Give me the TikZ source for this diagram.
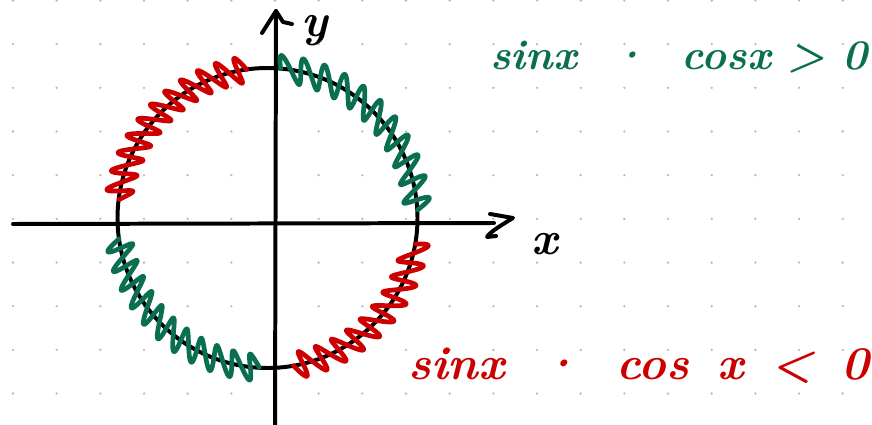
\documentclass[tikz,border=0pt]{standalone}
\usepackage{fontspec}
\definecolor{myred}{RGB}{204,0,0}
\definecolor{mygreen}{RGB}{10,110,80}
\definecolor{dotgray}{RGB}{185,185,185}
\tikzset{
  axis/.style={line width=3.4pt,line cap=round,line join=round,black},
  wave/.style={line width=4pt,line cap=round,line join=round},
  glbl/.style={inner sep=0pt,anchor=west,font=\fontsize{36}{40}\selectfont\bfseries\itshape},
  rlbl/.style={inner sep=0pt,anchor=west,font=\fontsize{40}{44}\selectfont\bfseries\itshape},
  axlbl/.style={inner sep=0pt,font=\fontsize{40}{44}\selectfont\bfseries\itshape},
}
% colour, start angle, end angle, number of waves, amplitude
\newcommand\wavyarc[5]{%
 \draw[wave,#1] plot[domain=0:1,samples=500,smooth,variable=\t]
  ({267.5+(150+#5*sin(360*#4*\t))*cos(#2+(#3-#2)*\t)-0.45*#5*sin(360*#4*\t)*sin(#2+(#3-#2)*\t)},
   {218-(150+#5*sin(360*#4*\t))*sin(#2+(#3-#2)*\t)-0.45*#5*sin(360*#4*\t)*cos(#2+(#3-#2)*\t)});}
\begin{document}
\begin{tikzpicture}[x=0.03cm,y=-0.03cm]
\useasboundingbox (0,0) rectangle (872,425);
\foreach \i in {0,...,19} \foreach \j in {0,...,9}
  \fill[dotgray] ({13+43.67*\i},{0.5+43.67*\j}) circle[radius=1.1pt];
% axes
\coordinate (xs) at (13,224);
\coordinate (xe) at (494,223);
\coordinate (ys) at (275,430);
\coordinate (ye) at (276,11);
\draw[axis] (xs) -- (xe);
\draw[axis] (ys) -- (ye);
\draw[axis] (262,33) -- (ye) -- (283,22) -- (292,24);
\draw[axis] (490,214) -- (513,218) .. controls (500,226) and (490,232) .. (487,237) -- (496,236);
% circle
\coordinate (c) at (267.5,218);
\draw[axis] (c) circle[radius=150*0.03cm];
% wavy arcs
\wavyarc{myred}{98}{173}{11}{13}
\wavyarc{mygreen}{85}{3}{10.5}{13}
\wavyarc{mygreen}{188}{267}{11}{13}
\wavyarc{myred}{280}{350}{9.5}{13}
% labels
\node[axlbl] (ylab) at (315,31) {y};
\node[axlbl] (xlab) at (545,244) {x};
\node[glbl,text=mygreen] (g) at (490,57) {sinx\hspace{0.8em}·\hspace{0.8em}cosx\hspace{0.4em}>\hspace{0.4em}0};
\node[rlbl,text=myred] (r) at (408,366) {sinx\hspace{0.75em}·\hspace{0.75em}cos\hspace{0.6em}x\hspace{0.6em}<\hspace{0.6em}0};
\end{tikzpicture}
\end{document}
